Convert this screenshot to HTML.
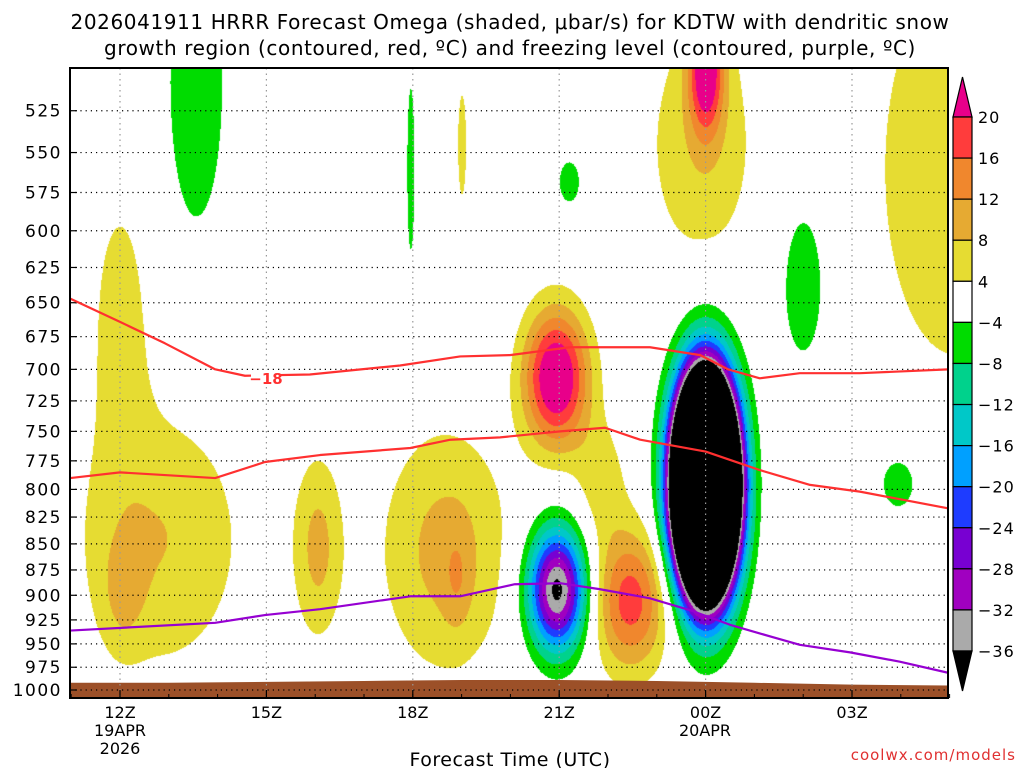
<!DOCTYPE html>
<html><head><meta charset="utf-8"><style>
body{margin:0;background:#fff;width:1024px;height:768px;overflow:hidden;font-family:"DejaVu Sans","Liberation Sans",sans-serif;}
#wrap{position:relative;width:1024px;height:768px;}
canvas{position:absolute;left:70px;top:68px;}
svg{position:absolute;left:0;top:0;font-family:"DejaVu Sans","Liberation Sans",sans-serif;}
</style></head><body>
<div id="wrap">
<canvas id="cv" width="878" height="630"></canvas>
<svg id="sv" width="1024" height="768"></svg>
</div>
<script>
// ---- data ----
const pressureTicks=[525,550,575,600,625,650,675,700,725,750,775,800,825,850,875,900,925,950,975,1000];
const hourTicks=[12,15,18,21,24,27];
const hourLabels=["12Z","15Z","18Z","21Z","00Z","03Z"];
const levelLabels=["20","16","12","8","4","\u22124","\u22128","\u221212","\u221216","\u221220","\u221224","\u221228","\u221232","\u221236"];
// omega features: hour, pressure(hPa), amplitude (ubar/s), sigma hours, sigma px
const blobHour=[13.55,17.95,19.0,21.2,23.9,24.0,29.1,26.0,27.95,12.0,12.8,12.05,16.05,18.66,18.9,20.93,22.45,21.84,20.95,23.99];
const blobP=[510,560,545,568,545,500,560,636,794,660,846,897,853,856,885,706,905,792,894,796];
const blobAmp=[-7,-6,6,-6,7,22,7,-7,-7,6,8,5,9,9.5,4,26,18,6,-38,-200];
const blobSigH=[0.5,0.08,0.09,0.22,0.85,0.25,1.35,0.38,0.35,0.45,1.25,0.3,0.36,0.94,0.2,0.47,0.55,0.4,0.42,0.41];
const blobSigY=[125,90,55,22,95,45,175,68,26,100,97,40,65,88,35,48,50,45,43,68];
// contour lines
const dgzUpperH=[10.98,12,12.92,13.95,14.56,15.89,17.74,18.97,19.99,21.22,22.86,23.89,24.46,25.11,25.93,27.16,28.97];
const dgzUpperP=[647,664,680,700,705,704,697,690,689,683,683,689,700,707,703,703,700];
const dgzLowerH=[10.98,12,13.95,14.97,16.1,17.95,18.77,19.79,21.02,21.94,22.66,24,25.11,26.14,27.16,28.97];
const dgzLowerP=[790,785,790,776,770,764,757,755,750,747,757,767,783,796,802,817];
const frzH=[10.98,13.95,14.97,16.1,17.95,18.97,20.09,21.02,21.84,22.86,23.68,24.5,25.11,25.93,26.96,27.98,28.97];
const frzP=[936,928,920,914,901,901,889,888,894,903,915,930,939,951,959,969,981];
const sfcH=[10.9,13,15,17,19,21,23,25,27,29.1];
const sfcP=[992,992,991,990,989,989,990,992,994,995];

// ---- axes ----
const X0=70,X1=948,Y0=68,Y1=698;
const xOf=h=>120+(h-12)*48.8;
const yOf=p=>690-899*Math.log(1000/p);
const colors=["#e8008a","#ff3c3c","#f0872d","#e6aa32","#e6dc32","#ffffff","#00dc00","#00d28c","#00c8c8","#00a0ff","#1e3cff","#7800d2","#a000c0","#aaaaaa","#000000"];
const thr=[20,16,12,8,4,-4,-8,-12,-16,-20,-24,-28,-32,-36];
function colIdx(v){for(let i=0;i<5;i++)if(v>=thr[i])return i;if(v>-4)return 5;for(let i=6;i<14;i++)if(v>thr[i])return i;return 14;}
const rgb=colors.map(c=>[parseInt(c.substr(1,2),16),parseInt(c.substr(3,2),16),parseInt(c.substr(5,2),16)]);
// ---- shading ----
const cv=document.getElementById('cv'),ctx=cv.getContext('2d');
const W=878,H=630,img=ctx.createImageData(W,H);
const bx=blobHour.map(xOf),by=blobP.map(yOf),bsx=blobSigH.map(s=>s*48.8);
for(let j=0;j<H;j++){const y=j+Y0;for(let i=0;i<W;i++){const x=i+X0;let v=0;
 for(let k=0;k<bx.length;k++){const dx=(x-bx[k])/bsx[k],dy=(y-by[k])/blobSigY[k];const d=dx*dx+dy*dy;if(d<30)v+=blobAmp[k]*Math.exp(-0.5*d);}
 const c=rgb[colIdx(v)],o=(j*W+i)*4;img.data[o]=c[0];img.data[o+1]=c[1];img.data[o+2]=c[2];img.data[o+3]=255;}}
ctx.putImageData(img,0,0);
// ---- svg ----
const sv=document.getElementById('sv');const NS='http://www.w3.org/2000/svg';
function mk(t,a,parent){const e=document.createElementNS(NS,t);for(const k in a)e.setAttribute(k,a[k]);(parent||sv).appendChild(e);return e;}
// ground
let gp=`M${X0},${Y1} `;sfcH.forEach((h,i)=>gp+=`L${Math.max(X0,Math.min(X1,xOf(h)))},${yOf(sfcP[i])} `);gp+=`L${X1},${Y1} Z`;
const ground=mk('path',{d:gp,fill:'#9c5028'});


// grid
pressureTicks.forEach(p=>{const y=yOf(p);
 const g=mk('line',{x1:X0,x2:X1,y1:y,y2:y,stroke:'#000','stroke-width':1.2,'stroke-dasharray':'1.2,4'});
 
 
 mk('line',{x1:X0,x2:X0+7,y1:y,y2:y,stroke:'#000','stroke-width':1.2});
 const t=mk('text',{x:62,y:y+6,'text-anchor':'end','font-size':17,'letter-spacing':1.5,fill:'#000'});t.textContent=p;
 
 });
hourTicks.forEach((h,i)=>{const x=xOf(h);
 const g=mk('line',{x1:x,x2:x,y1:Y0,y2:Y1,stroke:'#999','stroke-width':1.2,'stroke-dasharray':'1.5,4'});
 
 
 mk('line',{x1:x,x2:x,y1:Y1,y2:Y1-8,stroke:'#000','stroke-width':1.2});
 const t=mk('text',{x:x,y:718,'text-anchor':'middle','font-size':16});t.textContent=hourLabels[i];
 
 });
for(let h=11;h<=29;h++){const x=xOf(h);mk('line',{x1:x,x2:x,y1:Y1,y2:Y1-4,stroke:'#000','stroke-width':1});}
[["19APR",120,736],["2026",120,754],["20APR",705,736]].forEach(a=>{const t=mk('text',{x:a[1],y:a[2],'text-anchor':'middle','font-size':16});t.textContent=a[0];
 
 });
// lines
function line(hs,ps,col,name){const pts=hs.map((h,i)=>`${Math.max(X0,Math.min(X1,xOf(h)))},${yOf(ps[i])}`).join(' ');
 const l=mk('polyline',{points:pts,fill:'none',stroke:col,'stroke-width':2.2,'stroke-linejoin':'round'});
 
 }
line(dgzUpperH,dgzUpperP,'#ff3030','dgz-upper-contour');
line(dgzLowerH,dgzLowerP,'#ff3030','dgz-lower-contour');
line(frzH,frzP,'#9600d2','freezing-level-contour');
mk('rect',{x:251,y:370,width:30,height:16,fill:'#fff'});
const lb=mk('text',{x:266,y:384,'text-anchor':'middle','font-size':15,'font-weight':'bold',fill:'#ff3030'});lb.textContent='\u221218';


// frame
const fr=mk('rect',{x:X0,y:Y0,width:X1-X0,height:Y1-Y0,fill:'none',stroke:'#000','stroke-width':2});


// colorbar
const CB0=953,CB1=972,top20=117,step=(651-117)/13;
const tri1=mk('polygon',{points:`${CB0},${top20} ${CB1},${top20} ${(CB0+CB1)/2},77`,fill:colors[0],stroke:'#000','stroke-width':1.2});


for(let i=0;i<13;i++){const r=mk('rect',{x:CB0,y:top20+i*step,width:CB1-CB0,height:step,fill:colors[i+1],stroke:'#000','stroke-width':1.2});
 
 }
const tri2=mk('polygon',{points:`${CB0},651 ${CB1},651 ${(CB0+CB1)/2},691`,fill:'#000',stroke:'#000','stroke-width':1.2});


levelLabels.forEach((s,i)=>{const t=mk('text',{x:978,y:top20+i*step+6,'font-size':16,'letter-spacing':1});t.textContent=s;
 
 });
// titles
[["2026041911 HRRR Forecast Omega (shaded, \u03bcbar/s) for KDTW with dendritic snow",29],["growth region (contoured, red, \u00baC) and freezing level (contoured, purple, \u00baC)",55]].forEach(a=>{
 const t=mk('text',{x:510,y:a[1],'text-anchor':'middle','font-size':20,'letter-spacing':0.6});t.textContent=a[0];
 
 });
const xt=mk('text',{x:510,y:766,'text-anchor':'middle','font-size':19,'letter-spacing':0.5});xt.textContent='Forecast Time (UTC)';


const cr=mk('text',{x:1016,y:760,'text-anchor':'end','font-size':15,'letter-spacing':1,fill:'#e03030'});cr.textContent='coolwx.com/models';


</script>
</body></html>
